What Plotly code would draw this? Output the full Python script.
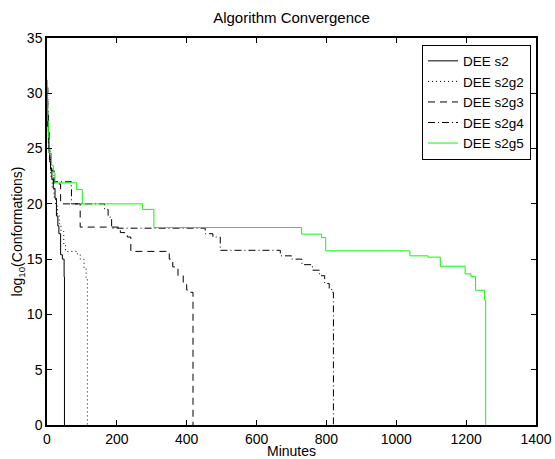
import plotly.graph_objects as go

# --- data (minutes, log10 conformations), step curves ---
s2_x = [0, 1, 2, 4, 6, 8, 10, 14, 18, 23, 27, 31, 34, 39, 44, 49, 50]
s2_y = [30, 28.5, 27, 25.5, 24.6, 23.8, 23.2, 22.2, 21.4, 20.5, 18.9, 18.0, 17.3, 15.4, 15.0, 13.4, 0]

s2g2_x = [0, 2, 4, 6, 8, 10, 15, 20, 25, 30, 35, 40, 48, 53, 87, 95, 106, 112, 115.5]
s2g2_y = [30.5, 28, 26, 24.8, 23.8, 22.5, 21.5, 20.6, 19.8, 19.0, 18.2, 17.5, 16.3, 15.7, 15.4, 15.0, 14.2, 13.2, 0]

s2g3_x = [0, 2, 4, 6, 8, 12, 20, 39, 95, 210, 230, 240, 350, 360, 375, 390, 400, 410, 418]
s2g3_y = [30.5, 28, 26.5, 25, 24, 23, 21.8, 20.0, 17.9, 17.4, 17.0, 15.7, 15.0, 14.3, 13.5, 12.7, 12.2, 12.0, 0]

s2g4_x = [0, 2, 4, 6, 8, 12, 20, 70, 165, 175, 185, 453, 475, 496, 668, 700, 730, 760, 780, 795, 808, 815, 820]
s2g4_y = [30.5, 28, 26.5, 25, 24, 23, 22.0, 20.0, 19.5, 18.8, 17.8, 17.3, 17.0, 15.8, 15.3, 15.0, 14.5, 14.0, 13.5, 12.8, 12.3, 12.0, 0]

s2g5_x = [0, 1, 2, 4, 6.6, 13, 18, 23, 85, 101, 274, 306, 729, 786, 798, 1039, 1091, 1126, 1197, 1214, 1227, 1253, 1256]
s2g5_y = [31.2, 29, 27.5, 26, 24.6, 23.5, 22.8, 21.9, 21.3, 20.0, 19.5, 17.86, 17.26, 16.95, 15.75, 15.3, 15.18, 14.36, 13.67, 13.42, 12.19, 11.3, 0]

series = [
    ("DEE s2", s2_x, s2_y, "black", "solid"),
    ("DEE s2g2", s2g2_x, s2g2_y, "black", "1px,3px"),
    ("DEE s2g3", s2g3_x, s2g3_y, "black", "7px,5px"),
    ("DEE s2g4", s2g4_x, s2g4_y, "black", "7px,3px,1px,3px"),
    ("DEE s2g5", s2g5_x, s2g5_y, "#00ff00", "solid"),
]

x_ticks = [0, 200, 400, 600, 800, 1000, 1200, 1400]
y_ticks = [0, 5, 10, 15, 20, 25, 30, 35]

fig = go.Figure()
for name, xs, ys, col, dash in series:
    fig.add_trace(go.Scatter(
        x=xs, y=ys, name=name, mode="lines",
        line=dict(color=col, width=1, dash=dash, shape="hv"),
    ))

font = "Liberation Sans, Arial, Helvetica, sans-serif"
axis_common = dict(
    showgrid=False, zeroline=False, showline=True, linecolor="black",
    linewidth=1.5, mirror="allticks", ticks="inside", ticklen=5,
    tickcolor="black", tickwidth=1, tickfont=dict(size=14, color="black"),
    automargin=False,
)
fig.update_layout(
    width=555, height=459,
    margin=dict(l=47, r=19, t=38, b=34),
    paper_bgcolor="white", plot_bgcolor="white",
    font=dict(family=font, size=14, color="black"),
    title=dict(text="Algorithm Convergence", x=0.5, xanchor="center",
               xref="paper",
               y=1 - 18 / 459, yanchor="middle", font=dict(size=15)),
    xaxis=dict(range=[0, 1400], tickvals=x_ticks,
               title=dict(text="Minutes", standoff=0, font=dict(size=14)),
               **axis_common),
    yaxis=dict(range=[0, 35], tickvals=y_ticks,
               title=dict(text="log<sub>10</sub>(Conformations)", standoff=0,
                          font=dict(size=14)),
               **axis_common),
    legend=dict(x=0.9898, xanchor="right", y=0.983, yanchor="top",
                bordercolor="black", borderwidth=1, bgcolor="white",
                font=dict(size=13.5), tracegroupgap=0, itemwidth=30),
    showlegend=True,
)

fig.write_html("out.html")
